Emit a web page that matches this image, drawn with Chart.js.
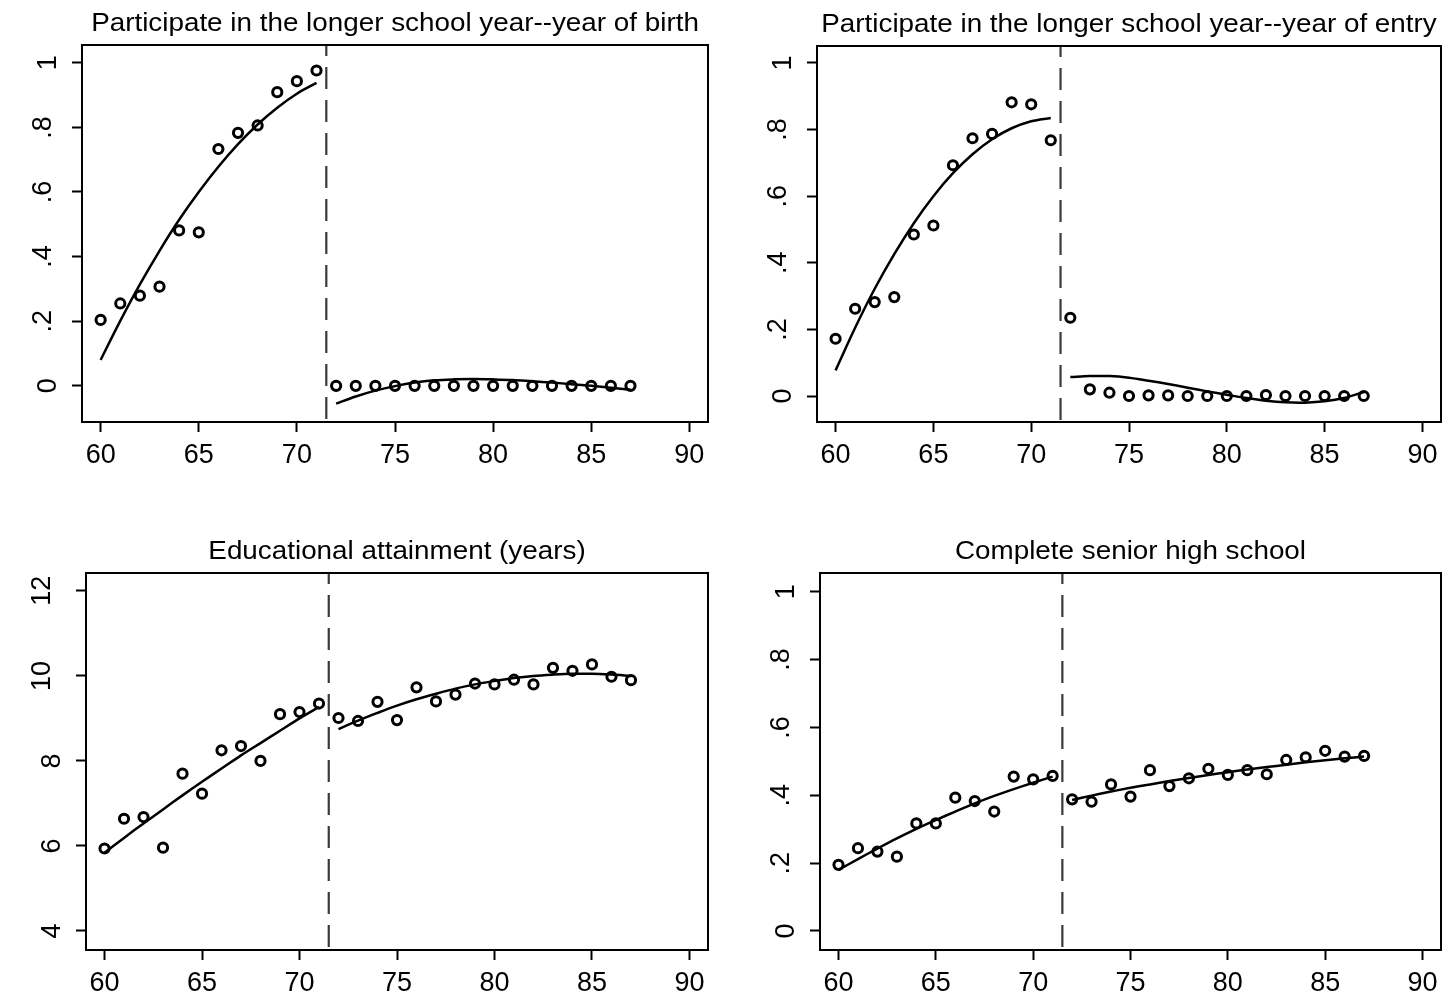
<!DOCTYPE html>
<html>
<head>
<meta charset="utf-8">
<script src="https://cdn.jsdelivr.net/npm/chart.js@4.4.0/dist/chart.umd.min.js"></script>
<style>
  html, body { margin: 0; padding: 0; background: #fff; }
  #wrap { position: relative; width: 1449px; height: 1001px; }
  #wrap canvas { position: absolute; }
</style>
</head>
<body>
<div id="wrap">
  <canvas id="c1" width="724" height="500" style="left:0;top:0"></canvas>
  <canvas id="c2" width="725" height="500" style="left:724px;top:0"></canvas>
  <canvas id="c3" width="724" height="501" style="left:0;top:500px"></canvas>
  <canvas id="c4" width="725" height="501" style="left:724px;top:500px"></canvas>
</div>
<script>
// cohorts (year of birth / entry, 19xx)
const years = [60,61,62,63,64,65,66,67,68,69,70,71,72,73,74,75,76,77,78,79,80,81,82,83,84,85,86,87];
const yearsLeft = [60,61,62,63,64,65,66,67,68,69,70,71];
const yearsRight = [72,73,74,75,76,77,78,79,80,81,82,83,84,85,86,87];
const cutoff = 71.5;
const xTicks = [60,65,70,75,80,85,90];

// participate -- year of birth
const birthMeans = [0.204,0.255,0.279,0.307,0.481,0.475,0.733,0.783,0.806,0.909,0.943,0.976,
  0,0,0,0,0,0,0,0,0,0,0,0,0,0,0,0];
const birthFitLeft = [0.080,0.201,0.314,0.418,0.514,0.600,0.678,0.748,0.809,0.861,0.904,0.938];
const birthFitRight = [-0.055,-0.033,-0.015,-0.001,0.010,0.017,0.020,0.021,0.020,0.018,0.014,0.010,0.005,0.000,-0.006,-0.012];

// participate -- year of entry
const entryMeans = [0.172,0.262,0.282,0.297,0.485,0.512,0.693,0.774,0.787,0.882,0.876,0.768,
  0.235,0.020,0.010,0,0.002,0.002,0,0,0,0,0.003,0,0,0,0,0];
const entryFitLeft = [0.077,0.205,0.322,0.426,0.519,0.600,0.669,0.726,0.771,0.804,0.825,0.835];
const entryFitRight = [0.057,0.060,0.060,0.055,0.046,0.036,0.025,0.014,0.004,-0.006,-0.014,-0.019,-0.020,-0.016,-0.006,0.012];

// educational attainment (years)
const eduMeans = [5.94,6.64,6.68,5.96,7.70,7.23,8.25,8.35,8.00,9.10,9.15,9.35,
  9.01,8.94,9.39,8.96,9.73,9.40,9.56,9.82,9.80,9.91,9.80,10.19,10.12,10.27,9.98,9.90];
const eduFitLeft = [5.84,6.19,6.53,6.86,7.19,7.51,7.82,8.13,8.42,8.71,9.00,9.27];
const eduFitRight = [8.75,8.95,9.13,9.30,9.45,9.58,9.70,9.80,9.88,9.95,10.00,10.03,10.05,10.05,10.03,10.00];

// complete senior high school
const hsMeans = [0.195,0.244,0.234,0.219,0.317,0.317,0.393,0.383,0.352,0.455,0.447,0.457,
  0.388,0.381,0.432,0.396,0.474,0.427,0.450,0.478,0.460,0.474,0.462,0.504,0.512,0.531,0.514,0.516];
const hsFitLeft = [0.180,0.212,0.243,0.273,0.301,0.327,0.352,0.376,0.398,0.418,0.437,0.455];
const hsFitRight = [0.386,0.399,0.411,0.422,0.432,0.442,0.451,0.460,0.468,0.476,0.483,0.490,0.497,0.503,0.509,0.514];

const shareTicks = [0,0.2,0.4,0.6,0.8,1];
const shareLabels = ['0','.2','.4','.6','.8','1'];
const eduTicks = [4,6,8,10,12];
const eduLabels = ['4','6','8','10','12'];

const FONT = '"Liberation Sans", Arial, Helvetica, sans-serif';

const toXY = (xs, ys) => xs.map((x, i) => ({x: x, y: ys[i]}));

// frame, title and rotated y labels, all placed from the chart's own scales
const panelPlugin = {
  id: 'panel',
  afterDraw(chart, args, opts) {
    const ctx = chart.ctx;
    const a = chart.chartArea;
    const yScale = chart.scales.y;
    ctx.save();
    ctx.strokeStyle = '#000';
    ctx.lineWidth = 2;
    ctx.strokeRect(a.left, a.top, a.right - a.left, a.bottom - a.top);

    ctx.fillStyle = '#000';
    ctx.font = '26px ' + FONT;
    ctx.textAlign = 'center';
    ctx.textBaseline = 'alphabetic';
    ctx.translate((a.left + a.right) / 2, a.top - 14);
    ctx.scale(1.07, 1);
    ctx.fillText(opts.title, 0, 0);
    ctx.restore();

    ctx.save();
    ctx.fillStyle = '#000';
    ctx.font = '27px ' + FONT;
    opts.yTicks.forEach((v, i) => {
      const s = opts.yLabels[i];
      const y = yScale.getPixelForValue(v);
      const w = ctx.measureText(s).width;
      const cx = a.left - 10 - 23 - 0.7 * (w - 15);
      ctx.save();
      ctx.translate(cx, y);
      ctx.rotate(-Math.PI / 2);
      ctx.textAlign = 'center';
      ctx.textBaseline = 'middle';
      ctx.fillText(s, 0, 0);
      ctx.restore();
    });
    ctx.restore();
  }
};

function makePanel(id, p) {
  const canvas = document.getElementById(id);
  const tickGrid = { drawOnChartArea: false, drawTicks: true, tickLength: 10, tickWidth: 2, tickColor: '#000' };
  return new Chart(canvas, {
    type: 'scatter',
    data: {
      datasets: [
        {
          data: toXY(years, p.means),
          showLine: false,
          pointRadius: 4.6,
          pointBorderWidth: 3,
          pointBorderColor: '#000',
          pointBackgroundColor: 'rgba(0,0,0,0)',
          borderColor: '#000',
          backgroundColor: 'rgba(0,0,0,0)'
        },
        {
          data: toXY(yearsLeft, p.fitLeft),
          showLine: true, pointRadius: 0, borderColor: '#000', borderWidth: 2.5, tension: 0.35
        },
        {
          data: toXY(yearsRight, p.fitRight),
          showLine: true, pointRadius: 0, borderColor: '#000', borderWidth: 2.5, tension: 0.35
        },
        {
          data: [{x: cutoff, y: p.yMax}, {x: cutoff, y: p.yMin}],
          showLine: true, pointRadius: 0, borderColor: '#3a3a3a', borderWidth: 2.2,
          borderDash: [22, 11], borderDashOffset: 11
        }
      ]
    },
    options: {
      responsive: false,
      animation: false,
      devicePixelRatio: 1,
      layout: { padding: { top: p.top, right: p.right, left: 0, bottom: 0 } },
      plugins: {
        legend: { display: false },
        tooltip: { enabled: false },
        panel: { title: p.title, yTicks: p.yTicks, yLabels: p.yLabels }
      },
      scales: {
        x: {
          type: 'linear', min: 59.05, max: 90.95,
          afterBuildTicks: s => { s.ticks = xTicks.map(v => ({value: v})); },
          afterFit: s => { s.height = canvas.height - p.bottom; },
          ticks: { font: { family: FONT, size: 27 }, color: '#000', padding: 7, maxRotation: 0, autoSkip: false,
                   callback: v => String(v) },
          grid: tickGrid,
          border: { display: false }
        },
        y: {
          type: 'linear', min: p.yMin, max: p.yMax,
          afterBuildTicks: s => { s.ticks = p.yTicks.map(v => ({value: v})); },
          afterFit: s => { s.width = p.left; },
          ticks: { display: false },
          grid: tickGrid,
          border: { display: false }
        }
      }
    },
    plugins: [panelPlugin]
  });
}

makePanel('c1', {
  title: 'Participate in the longer school year--year of birth',
  means: birthMeans, fitLeft: birthFitLeft, fitRight: birthFitRight,
  yTicks: shareTicks, yLabels: shareLabels, yMin: -0.112, yMax: 1.055,
  left: 82, top: 45, right: 16, bottom: 422
});
makePanel('c2', {
  title: 'Participate in the longer school year--year of entry',
  means: entryMeans, fitLeft: entryFitLeft, fitRight: entryFitRight,
  yTicks: shareTicks, yLabels: shareLabels, yMin: -0.078, yMax: 1.051,
  left: 93, top: 46, right: 8, bottom: 422
});
makePanel('c3', {
  title: 'Educational attainment (years)',
  means: eduMeans, fitLeft: eduFitLeft, fitRight: eduFitRight,
  yTicks: eduTicks, yLabels: eduLabels, yMin: 3.553, yMax: 12.42,
  left: 86, top: 73, right: 16, bottom: 450
});
makePanel('c4', {
  title: 'Complete senior high school',
  means: hsMeans, fitLeft: hsFitLeft, fitRight: hsFitRight,
  yTicks: shareTicks, yLabels: shareLabels, yMin: -0.056, yMax: 1.055,
  left: 96, top: 73, right: 8, bottom: 450
});
</script>
</body>
</html>
